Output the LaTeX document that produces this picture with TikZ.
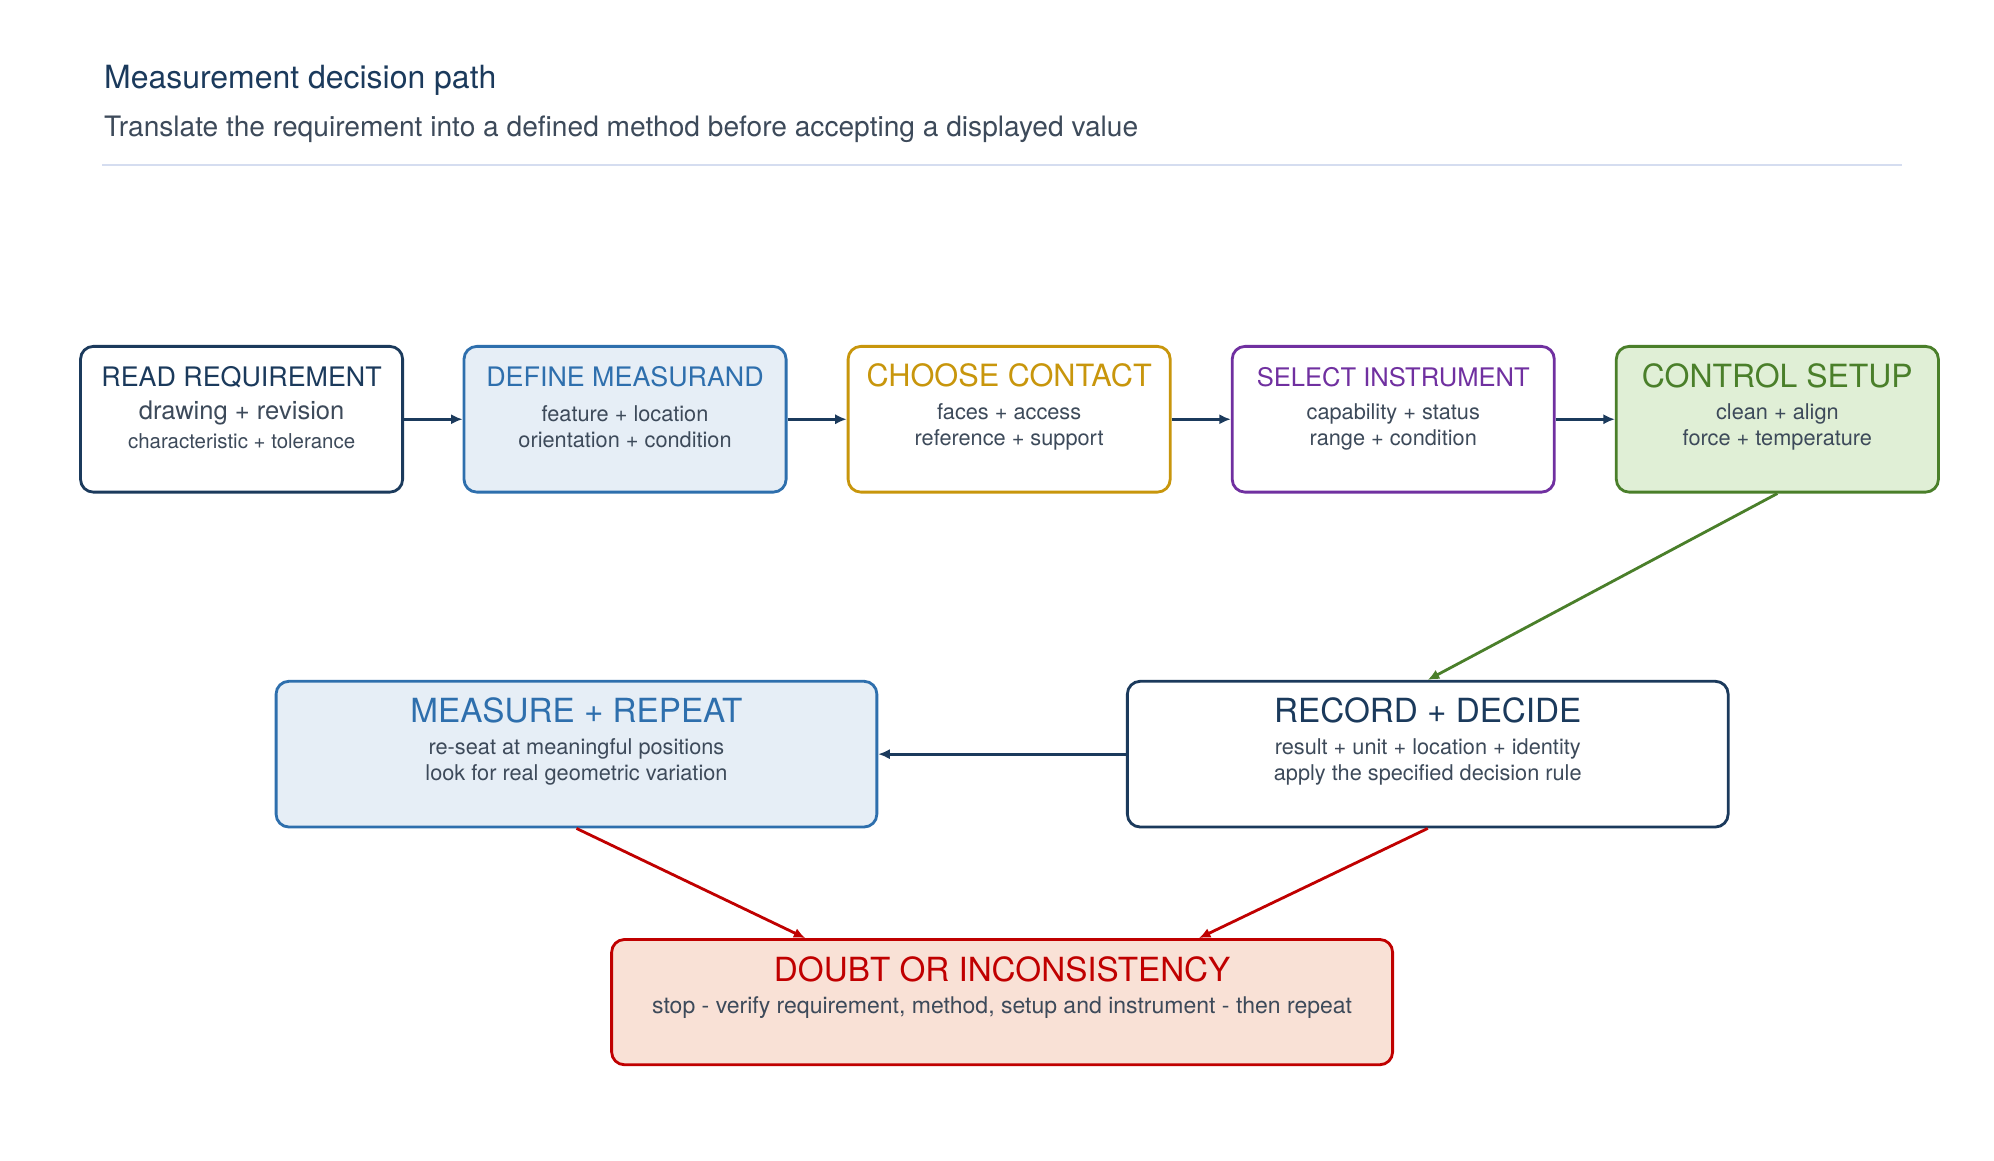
\documentclass[tikz,border=0pt]{standalone}
\usepackage{fontspec}
\setmainfont{TeX Gyre Heros}
\usetikzlibrary{arrows.meta}
\definecolor{navy}{HTML}{1B3A5C}
\definecolor{blu}{HTML}{2E6FAD}
\definecolor{bluf}{HTML}{E6EEF6}
\definecolor{gold}{HTML}{C8960C}
\definecolor{purp}{HTML}{7030A0}
\definecolor{grn}{HTML}{4A7F2A}
\definecolor{grnf}{HTML}{E0EFD6}
\definecolor{red}{HTML}{C00000}
\definecolor{redf}{HTML}{F9E1D6}
\definecolor{txt}{HTML}{3D4A5A}
\definecolor{rule}{HTML}{D5DDF0}
\begin{document}
\begin{tikzpicture}[x=1pt,y=-1pt,
 box/.style={draw,line width=2.2pt,rounded corners=10pt,inner sep=0pt},
 sub/.style={text=txt,font=\fontsize{17}{20}\selectfont,align=center},
 arr/.style={line width=2.2pt,-{Latex[length=9pt,width=8pt]}}]
\useasboundingbox (0,0) rectangle (1560,908);
\fill[white] (0,0) rectangle (1560,908);
\node[anchor=west,text=navy,font=\fontsize{25}{30}\selectfont] (t) at (78,63) {Measurement decision path};
\node[anchor=west,text=txt,font=\fontsize{22}{26}\selectfont] (st) at (78,101) {Translate the requirement into a defined method before accepting a displayed value};
\draw[rule,line width=1.5pt] (80,129) -- (1488,129);
% row 1
\node[box,navy,fill=white,minimum width=252pt,minimum height=114pt] (a) at (189,328) {};
\node[box,blu,fill=bluf,minimum width=252pt,minimum height=114pt] (b) at (489,328) {};
\node[box,gold,fill=white,minimum width=252pt,minimum height=114pt] (c) at (789.5,328) {};
\node[box,purp,fill=white,minimum width=252pt,minimum height=114pt] (d) at (1090,328) {};
\node[box,grn,fill=grnf,minimum width=252pt,minimum height=114pt] (e) at (1390.5,328) {};
\node[text=navy,font=\fontsize{21}{24}\selectfont] (a1) at (189,295) {READ REQUIREMENT};
\node[sub,font=\fontsize{20}{24}\selectfont] (a2) at (189,323) {drawing + revision};
\node[sub,font=\fontsize{16}{19}\selectfont] (a3) at (189,345) {characteristic + tolerance};
\node[text=blu,font=\fontsize{21}{24}\selectfont] (b1) at (489,295) {DEFINE MEASURAND};
\node[sub] (b2) at (489,334) {feature + location\\orientation + condition};
\node[text=gold,font=\fontsize{24}{28}\selectfont] (c1) at (789.5,294) {CHOOSE CONTACT};
\node[sub] (c2) at (789.5,334) {faces + access\\reference + support};
\node[text=purp,font=\fontsize{20}{24}\selectfont] (d1) at (1090,295) {SELECT INSTRUMENT};
\node[sub] (d2) at (1090,334) {capability + status\\range + condition};
\node[text=grn,font=\fontsize{25}{28}\selectfont] (e1) at (1390.5,294) {CONTROL SETUP};
\node[sub] (e2) at (1390.5,334) {clean + align\\force + temperature};
% row 2
\node[box,blu,fill=bluf,minimum width=470pt,minimum height=114pt] (m) at (451,590) {};
\node[box,navy,fill=white,minimum width=470pt,minimum height=114pt] (r) at (1117,590) {};
\node[text=blu,font=\fontsize{26}{30}\selectfont] (m1) at (451,556) {MEASURE + REPEAT};
\node[sub] (m2) at (451,596) {re-seat at meaningful positions\\look for real geometric variation};
\node[text=navy,font=\fontsize{26}{30}\selectfont] (r1) at (1117,556) {RECORD + DECIDE};
\node[sub] (r2) at (1117,596) {result + unit + location + identity\\apply the specified decision rule};
% bottom
\node[box,red,fill=redf,minimum width=611pt,minimum height=98pt] (x) at (784,784) {};
\node[text=red,font=\fontsize{26}{30}\selectfont] (x1) at (784,758) {DOUBT OR INCONSISTENCY};
\node[sub,font=\fontsize{18}{22}\selectfont] (x2) at (784,788) {stop - verify requirement, method, setup and instrument - then repeat};
% arrows
\draw[arr,navy] (a.east) -- (b.west);
\draw[arr,navy] (b.east) -- (c.west);
\draw[arr,navy] (c.east) -- (d.west);
\draw[arr,navy] (d.east) -- (e.west);
\draw[arr,grn] (e.south) -- (r.north);
\draw[arr,navy] (r.west) -- (m.east);
\draw[arr,red] (m.south) -- ([xshift=-154pt]x.north);
\draw[arr,red] (r.south) -- ([xshift=154pt]x.north);
\end{tikzpicture}
\end{document}
